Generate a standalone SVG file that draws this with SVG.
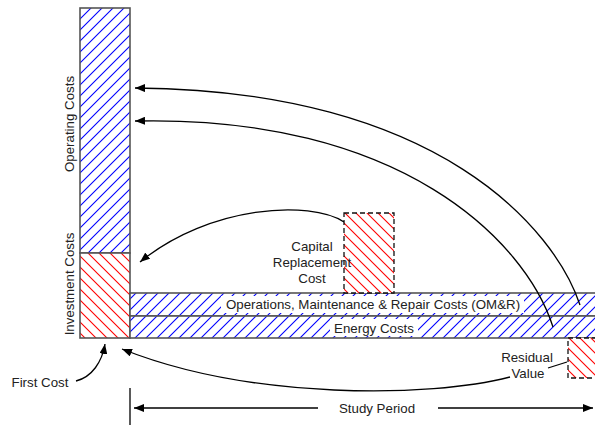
<svg xmlns="http://www.w3.org/2000/svg" width="595" height="427" viewBox="0 0 595 427">
<style>
text{font-family:"Liberation Sans",Arial,sans-serif;font-size:13.3px;fill:#222}
.box{stroke:#555;stroke-width:1.6}
.dash{stroke:#111;stroke-width:1.3;stroke-dasharray:5,3}
.conn{fill:none;stroke:#000;stroke-width:1.3}
.bg{fill:#fff}
</style>
<defs>
<pattern id="blue" patternUnits="userSpaceOnUse" width="11" height="11">
<rect width="11" height="11" fill="#fff"/>
<path d="M-1,12 L12,-1 M-1,1 L1,-1 M10,12 L12,10" stroke="#0000ff" stroke-width="1.1"/>
</pattern>
<pattern id="red" patternUnits="userSpaceOnUse" width="11" height="11">
<rect width="11" height="11" fill="#fff"/>
<path d="M-1,-1 L12,12 M10,-1 L12,1 M-1,10 L1,12" stroke="#ff0000" stroke-width="1.1"/>
</pattern>
<marker id="ah" viewBox="0 0 10 8" refX="10" refY="4" markerWidth="10" markerHeight="8" markerUnits="userSpaceOnUse" orient="auto">
<path d="M0,0 L10,4 L0,8 Z" fill="#000"/>
</marker>
</defs>

<g id="operating-costs">
<rect x="80" y="8" width="50" height="245" fill="url(#blue)" class="box"/>
<text transform="translate(74,124) rotate(-90)" text-anchor="middle">Operating Costs</text>
</g>
<g id="investment-costs">
<rect x="80" y="253" width="50" height="85" fill="url(#red)" class="box"/>
<text transform="translate(74,284) rotate(-90)" text-anchor="middle">Investment Costs</text>
</g>
<g id="omr">
<rect x="130" y="293" width="475" height="23" fill="url(#blue)" class="box" stroke="#222"/>
<rect x="221" y="296" width="303" height="17" class="bg"/>
<text x="373" y="309" text-anchor="middle">Operations, Maintenance &amp; Repair Costs (OM&amp;R)</text>
</g>
<g id="energy">
<rect x="130" y="316" width="475" height="22" fill="url(#blue)" class="box" stroke="#222"/>
<rect x="330" y="319" width="88" height="17" class="bg"/>
<text x="374" y="332.5" text-anchor="middle">Energy Costs</text>
</g>
<g id="capital-replacement">
<rect x="344" y="213" width="50" height="80" fill="url(#red)" class="dash"/>
<text x="312" y="251" text-anchor="middle">Capital</text>
<text x="312" y="267" text-anchor="middle">Replacement</text>
<text x="312" y="283" text-anchor="middle">Cost</text>
</g>
<g id="residual-value">
<rect x="568" y="338" width="40" height="40" fill="url(#red)" class="dash"/>
<text x="527" y="362" text-anchor="middle">Residual</text>
<text x="528" y="378" text-anchor="middle">Value</text>
</g>
<g id="first-cost">
<text x="40" y="387" text-anchor="middle">First Cost</text>
</g>
<g id="study-period">
<text x="377" y="413" text-anchor="middle">Study Period</text>
</g>

<g id="connectors">
<path class="conn" d="M580,305 C555,230 440,90 135,88" marker-end="url(#ah)"/>
<path class="conn" d="M553,327 C525,240 400,115 135,121" marker-end="url(#ah)"/>
<path class="conn" d="M344,222 C310,200 210,205 140,262" marker-end="url(#ah)"/>
<path class="conn" d="M76,381 C92,377 102,362 105,344" marker-end="url(#ah)"/>
<path class="conn" d="M567,362 L548,368"/>
<path class="conn" d="M510,377 C430,398 250,400 122,349" marker-end="url(#ah)"/>
<path class="conn" d="M130,388 L130,425"/>
<path class="conn" d="M318,408 L134,408" marker-end="url(#ah)"/>
<path class="conn" d="M438,408 L593,408" marker-end="url(#ah)"/>
</g>
</svg>
